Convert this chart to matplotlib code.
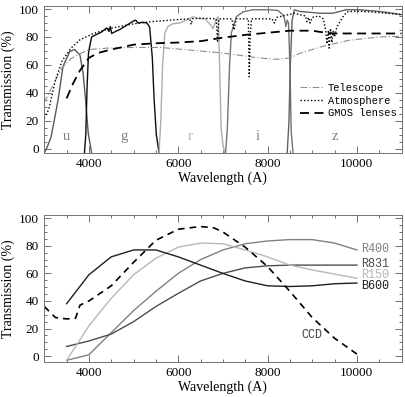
#!/usr/bin/env python3
"""GMOS throughput components and grating efficiencies (two panels)."""

import matplotlib
matplotlib.use("Agg")
import matplotlib.pyplot as plt
from matplotlib.ticker import MultipleLocator

# --- top panel: filters -------------------------------------------------
u_wave = [3000, 3050, 3150, 3240, 3310, 3420, 3570, 3680, 3800, 3870, 3925, 3985, 4060]
u_trans = [-3, 0, 8, 23, 35, 59, 69.5, 71, 67, 54, 35, 11, -3]

g_wave = [3900, 3930, 3960, 3990, 4010, 4060, 4150, 4280, 4400, 4450, 4480, 4510,
          4600, 4700, 4850, 5000, 5050, 5100, 5200, 5300, 5360, 5420, 5460, 5510, 5570]
g_trans = [-3, 10, 45, 68, 72, 80, 81.5, 83.5, 86.5, 84, 87.5, 82.5,
           84, 85.5, 88.5, 91.5, 92, 90, 90.5, 90, 87, 65, 35, 10, -3]

r_wave = [5570, 5610, 5650, 5700, 5770, 5880, 6030, 6180, 6330, 6480, 6600, 6740,
          6780, 6850, 6890, 6910, 6930, 6960, 7000, 7040]
r_trans = [-3, 20, 60, 83, 87.5, 89.5, 90, 92, 94.5, 93, 93, 88, 86, 92, 94.5, 80, 55, 15, 3, -3]

i_wave = [7060, 7100, 7150, 7190, 7300, 7450, 7670, 8000, 8230, 8340, 8380, 8410,
          8440, 8470, 8500, 8530, 8570]
i_trans = [-3, 15, 60, 83, 94.5, 98, 99.5, 99.5, 99, 96, 93, 87.5, 92, 90, 60, 12, -3]

z_wave = [8440, 8480, 8510, 8550, 8600, 8720, 9000, 9160, 9460, 9760, 10060, 10500, 10800, 11000]
z_trans = [-3, 20, 60, 92, 99.5, 98.3, 97.5, 97, 97, 99.5, 99.5, 98.3, 97, 96]

filter_names = ["u", "g", "r", "i", "z"]
filter_label_wave = [3500, 4780, 6260, 7780, 9500]

# --- top panel: other components ---------------------------------------
tel_wave = [3000, 3250, 3400, 3600, 3800, 4000, 4400, 5000, 5600, 6300, 7000, 7800,
            8200, 8500, 8700, 9200, 9800, 10500, 11000]
tel_trans = [33, 49, 58, 64.5, 68, 71, 72, 72.5, 72.5, 70.5, 68.5, 65,
             64, 65, 68, 73, 77.5, 80, 80.5]

atm_wave = [3000, 3100, 3250, 3400, 3600, 3800, 4100, 4500, 5000, 5400, 6000, 6260,
            6290, 6320, 6500, 6850, 6880, 6910, 7200, 7250, 7300, 7570, 7590, 7610,
            7640, 8100, 8150, 8200, 8600, 8850, 8880, 8920, 8950, 9000, 9150, 9250,
            9300, 9330, 9360, 9380, 9410, 9440, 9470, 9500, 9550, 9620, 9700, 9780,
            10000, 10500, 11000]
atm_trans = [22, 28, 49, 63, 72, 78, 82.5, 86.3, 89.4, 91, 92.5, 93,
             89, 93, 93.5, 93, 77, 93, 93, 85, 93, 93, 51.5, 80,
             93, 93, 90, 94, 97, 95, 91, 94, 90, 94, 95, 93,
             85, 75, 84, 72, 86, 76, 84, 80, 87, 91, 95, 98,
             98.5, 97.5, 96]

gmos_wave = [3500, 3650, 3800, 4000, 4200, 4500, 5000, 5500, 6000, 6500, 7000, 7500,
             8000, 8500, 9000, 9300, 9500, 11000]
gmos_trans = [36, 47, 56, 65, 68.5, 71, 74.5, 75.5, 76, 77, 79.5, 81.5,
              83, 84.5, 84.5, 83, 82.5, 82.5]

# --- bottom panel: gratings and CCD ------------------------------------
grating_wave = [3500, 4000, 4500, 5000, 5500, 6000, 6500, 7000, 7500, 8000, 8500, 9000, 9500, 10000]
r400_eff = [-3, 1, 17, 33, 47, 60, 70, 77, 81.5, 83.5, 84.5, 84.5, 82, 77]
r831_eff = [7, 11, 16, 25, 36, 45.5, 54.5, 60, 64, 65.5, 66, 66, 66, 66]
r150_eff = [-3, 22, 42, 59, 71, 79, 82, 81.5, 77, 72, 66, 62.5, 59.5, 56.5]
b600_eff = [38, 59, 72, 77, 77, 72, 66, 60, 54.5, 51, 50.5, 51, 52.5, 53]
grating_names = ["R400", "R831", "R150", "B600"]

ccd_wave = [3000, 3250, 3500, 3700, 3800, 4000, 4500, 5000, 5500, 6000, 6500, 6800,
            7000, 7500, 8000, 8500, 9000, 9500, 10000]
ccd_qe = [36, 28, 27, 27.5, 37, 40, 51, 68, 84, 92, 94, 93,
          90, 79, 65, 47, 28, 13, 1.5]

SERIF = "Liberation Serif"
MONO = "Liberation Mono"
plt.rcParams["font.family"] = [SERIF, "DejaVu Serif"]


def style_axes(ax, ymin):
    ax.set_xlim(3000, 11000)
    ax.set_ylim(ymin, 102.5)
    ax.xaxis.set_major_locator(MultipleLocator(2000))
    ax.xaxis.set_minor_locator(MultipleLocator(500))
    ax.yaxis.set_major_locator(MultipleLocator(20))
    ax.yaxis.set_minor_locator(MultipleLocator(5))
    ax.set_xticks([4000, 6000, 8000, 10000])
    ax.set_yticks([0, 20, 40, 60, 80, 100])
    ax.tick_params(which="both", direction="in", top=True, right=True,
                   labelsize=9.5, width=0.6, colors="0.35", labelcolor="black", pad=4)
    ax.tick_params(which="major", length=5)
    ax.tick_params(which="minor", length=2.5)
    for sp in ax.spines.values():
        sp.set_color("0.45")
        sp.set_linewidth(0.7)
    ax.set_xlabel("Wavelength (A)", fontsize=10, labelpad=1)
    ax.set_ylabel("Transmission (%)", fontsize=10, labelpad=3)


def main():
    fig = plt.figure(figsize=(4.06, 3.97), dpi=100)
    ax1 = fig.add_axes([0.109, 0.615, 0.880, 0.371])
    ax2 = fig.add_axes([0.109, 0.089, 0.880, 0.370])

    # top panel
    filters = [
        (u_wave, u_trans, "0.35"),
        (g_wave, g_trans, "0.05"),
        (r_wave, r_trans, "0.68"),
        (i_wave, i_trans, "0.45"),
        (z_wave, z_trans, "0.38"),
    ]
    for (w, t, c) in filters:
        ax1.plot(w, t, color=c, lw=1.0)
    label_colors = ["0.5", "0.5", "0.7", "0.5", "0.5"]
    for name, w, c in zip(filter_names, filter_label_wave, label_colors):
        ax1.text(w, 9, name, color=c, fontsize=10.5, ha="center", va="center")

    ax1.plot(tel_wave, tel_trans, color="0.55", lw=0.8, ls=(0, (6, 2, 1, 2)), label="Telescope")
    ax1.plot(atm_wave, atm_trans, color="black", lw=1.0, ls=(0, (1, 1.5)), label="Atmosphere")
    ax1.plot(gmos_wave, gmos_trans, color="black", lw=1.3, ls=(0, (5, 3)), label="GMOS lenses")
    ax1.legend(loc="lower right", bbox_to_anchor=(1.0, 0.2), frameon=False,
               prop={"family": MONO, "size": 7.5}, handlelength=2.3,
               handletextpad=0.3, labelspacing=0.25, borderaxespad=0.1)
    style_axes(ax1, -3)

    # bottom panel
    gratings = [
        (r400_eff, "0.5"),
        (r831_eff, "0.3"),
        (r150_eff, "0.72"),
        (b600_eff, "0.12"),
    ]
    label_y = [78, 67, 59, 50.5]
    for name, (eff, c), ly in zip(grating_names, gratings, label_y):
        ax2.plot(grating_wave, eff, color=c, lw=1.0)
        ax2.text(10100, ly, name, color=c, family=MONO, fontsize=8.5, va="center", ha="left")
    ax2.plot(ccd_wave, ccd_qe, color="black", lw=1.2, ls=(0, (4, 3)))
    ax2.text(9000, 15, "CCD", color="0.25", family=MONO, fontsize=8.5, ha="center", va="center")
    style_axes(ax2, -4)

    fig.savefig("out.png", dpi=100)


if __name__ == "__main__":
    main()
